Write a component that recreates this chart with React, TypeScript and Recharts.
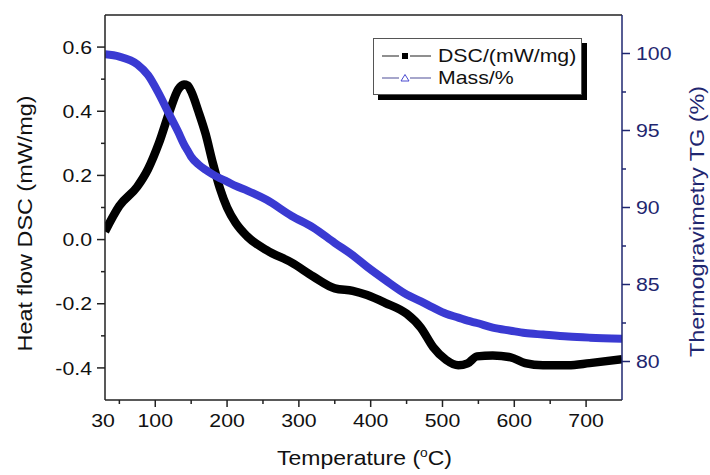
import React from 'react';
import { LineChart, Line, XAxis, YAxis, Legend, ReferenceLine } from 'recharts';

// temperature in °C
const temperature = [30, 50, 75, 90, 105, 120, 132, 140, 145, 150, 160, 170, 180, 190, 200, 212, 228, 255, 290, 320, 350, 375, 395, 420, 450, 470, 487, 505, 522, 535, 548, 570, 595, 615, 640, 675, 705, 750];
const dscValues = [0.025, 0.105, 0.165, 0.22, 0.3, 0.4, 0.468, 0.483, 0.48, 0.462, 0.4, 0.33, 0.24, 0.16, 0.1, 0.052, 0.01, -0.033, -0.072, -0.115, -0.152, -0.16, -0.173, -0.197, -0.231, -0.275, -0.335, -0.375, -0.392, -0.386, -0.364, -0.361, -0.367, -0.385, -0.392, -0.392, -0.385, -0.373];
const massValues = [99.95, 99.8, 99.3, 98.6, 97.4, 96.0, 94.9, 94.1, 93.7, 93.3, 92.8, 92.45, 92.15, 91.9, 91.68, 91.4, 91.1, 90.5, 89.45, 88.7, 87.7, 86.9, 86.15, 85.3, 84.35, 83.9, 83.5, 83.1, 82.85, 82.65, 82.5, 82.2, 82.0, 81.85, 81.75, 81.62, 81.55, 81.48];

const xMajor = [30, 100, 200, 300, 400, 500, 600, 700];
const xMinor = [50, 150, 250, 350, 450, 550, 650];
const dscMajor = [-0.4, -0.2, 0, 0.2, 0.4, 0.6];
const dscMinor = [-0.3, -0.1, 0.1, 0.3, 0.5];
const massMajor = [80, 85, 90, 95, 100];
const massMinor = [82.5, 87.5, 92.5, 97.5];

const data = temperature.map((t, i) => ({ t, dsc: dscValues[i], mass: massValues[i] }));

const FONT = '"Liberation Sans", Arial, Helvetica, sans-serif';
const NAVY = '#1f2770';
const BLUE = '#3a3ad2';
const SX = 1.15; // reference text is a bit wide

const isIn = (arr: number[], v: number) => arr.some(m => Math.abs(m - v) < 1e-6);

const XTick = (p: any) => {
  const v = p.payload.value;
  const major = isIn(xMajor, v);
  return (
    <g>
      {v !== 30 && <line x1={p.x} x2={p.x} y1={p.y} y2={p.y + (major ? 7 : 4)} stroke="#222" strokeWidth={1.5} />}
      {major && (
        <text transform={`translate(${p.x - (v === 30 ? 2 : 0)},${p.y + 27}) scale(${SX},1)`} textAnchor="middle" fontSize={18.5} fontFamily={FONT} fill="#111">
          {v}
        </text>
      )}
    </g>
  );
};

const LeftTick = (p: any) => {
  const v = p.payload.value;
  const major = isIn(dscMajor, v);
  return (
    <g>
      <line x1={p.x} x2={p.x - (major ? 8 : 4)} y1={p.y} y2={p.y} stroke="#222" strokeWidth={1.5} />
      {major && (
        <text transform={`translate(${p.x - 13},${p.y + 6.7}) scale(${SX},1)`} textAnchor="end" fontSize={18.5} fontFamily={FONT} fill="#111">
          {v.toFixed(1)}
        </text>
      )}
    </g>
  );
};

const RightTick = (p: any) => {
  const v = p.payload.value;
  const major = isIn(massMajor, v);
  return (
    <g>
      <line x1={p.x} x2={p.x + (major ? 8 : 4)} y1={p.y} y2={p.y} stroke={NAVY} strokeWidth={1.5} />
      {major && (
        <text transform={`translate(${p.x + 14},${p.y + 6.7}) scale(${SX},1)`} textAnchor="start" fontSize={18.5} fontFamily={FONT} fill={NAVY}>
          {v}
        </text>
      )}
    </g>
  );
};

const LegendBox = (p: any) => {
  const items = p.payload || [];
  return (
    <div style={{ width: 209, height: 57, boxSizing: 'border-box', border: '1px solid #555', background: '#fff', boxShadow: '5px 5px 0 #000', paddingTop: 6, fontFamily: FONT }}>
      {items.map((e: any) => {
        const dsc = e.dataKey === 'dsc';
        return (
          <div key={e.dataKey} style={{ display: 'flex', alignItems: 'center', height: 22, paddingLeft: 8 }}>
            <svg width={56} height={22}>
              <line x1={0} x2={17} y1={11} y2={11} stroke={dsc ? '#444' : '#6a6aa8'} strokeWidth={1.2} />
              <line x1={28} x2={49} y1={11} y2={11} stroke={dsc ? '#444' : '#6a6aa8'} strokeWidth={1.2} />
              {dsc ? (
                <rect x={20} y={8} width={6} height={6} fill="#000" />
              ) : (
                <polygon points="23,7.5 27,14 19,14" fill="#fff" stroke="#4a4ad0" strokeWidth={1} />
              )}
            </svg>
            <span style={{ display: 'inline-block', fontSize: 18.5, color: '#111', transform: `scaleX(${SX})`, transformOrigin: 'left center', whiteSpace: 'nowrap' }}>
              {e.value}
            </span>
          </div>
        );
      })}
    </div>
  );
};

export default function App() {
  return (
    <div style={{ position: 'absolute', left: 0, top: 0, background: '#fff' }}>
      <LineChart width={710} height={475} data={data} margin={{ top: 15, right: 0, bottom: 0, left: 0 }}>
        <XAxis
          dataKey="t"
          type="number"
          domain={[30, 750]}
          allowDataOverflow
          ticks={[...xMajor, ...xMinor].sort((a, b) => a - b)}
          interval={0}
          height={75}
          tickSize={0}
          tickMargin={0}
          tickLine={false}
          axisLine={{ stroke: '#222', strokeWidth: 1.5 }}
          tick={(p: any) => <XTick {...p} />}
          label={(p: any) => {
            const vb = p.viewBox;
            return (
              <text transform={`translate(${vb.x + vb.width / 2 + 1},${vb.y + 65}) scale(${SX},1)`} textAnchor="middle" fontSize={20} fontFamily={FONT} fill="#111">
                Temperature (<tspan dy={-8} fontSize={12}>o</tspan>
                <tspan dy={8}>C)</tspan>
              </text>
            );
          }}
        />
        <YAxis
          yAxisId="left"
          type="number"
          domain={[-0.5, 0.7]}
          allowDataOverflow
          ticks={[...dscMajor, ...dscMinor].sort((a, b) => a - b)}
          interval={0}
          width={105}
          tickSize={0}
          tickMargin={0}
          tickLine={false}
          axisLine={{ stroke: '#222', strokeWidth: 1.5 }}
          tick={(p: any) => <LeftTick {...p} />}
          label={(p: any) => {
            const vb = p.viewBox;
            return (
              <text transform={`translate(${vb.x + 25},${vb.y + vb.height / 2 + 16}) rotate(-90) scale(1.17,1)`} textAnchor="middle" dominantBaseline="central" fontSize={20} fontFamily={FONT} fill="#111">
                Heat flow DSC (mW/mg)
              </text>
            );
          }}
        />
        <YAxis
          yAxisId="right"
          orientation="right"
          type="number"
          domain={[77.5, 102.5]}
          allowDataOverflow
          ticks={[...massMajor, ...massMinor].sort((a, b) => a - b)}
          interval={0}
          width={88}
          tickSize={0}
          tickMargin={0}
          tickLine={false}
          axisLine={{ stroke: NAVY, strokeWidth: 1.5 }}
          tick={(p: any) => <RightTick {...p} />}
          label={(p: any) => {
            const vb = p.viewBox;
            return (
              <text transform={`translate(${vb.x + 75},${vb.y + vb.height / 2 + 14}) rotate(-90) scale(1.17,1)`} textAnchor="middle" dominantBaseline="central" fontSize={20} fontFamily={FONT} fill={NAVY}>
                Thermogravimetry TG (%)
              </text>
            );
          }}
        />
        <ReferenceLine yAxisId="left" y={0.7} stroke="#222" strokeWidth={1.5} ifOverflow="extendDomain" />
        <Legend
          layout="vertical"
          align="center"
          verticalAlign="middle"
          wrapperStyle={{ left: 373, top: 38 }}
          content={(p: any) => <LegendBox {...p} />}
        />
        <Line yAxisId="left" type="monotone" dataKey="dsc" name="DSC/(mW/mg)" stroke="#000" strokeWidth={8.5} dot={false} activeDot={false} strokeLinejoin="round" isAnimationActive={false} />
        <Line yAxisId="right" type="monotone" dataKey="mass" name="Mass/%" stroke={BLUE} strokeWidth={8} dot={false} activeDot={false} strokeLinejoin="round" isAnimationActive={false} />
      </LineChart>
    </div>
  );
}
